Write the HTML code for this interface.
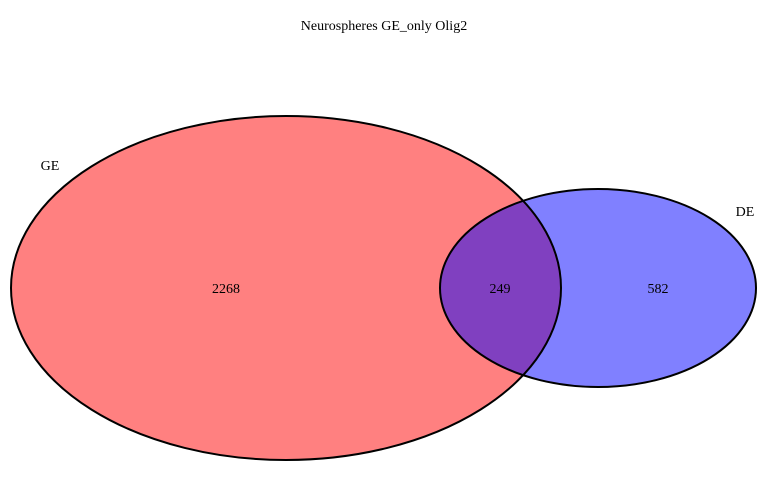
<!DOCTYPE html>
<html><head><meta charset="utf-8"><style>
html,body{margin:0;padding:0;background:#fff;}
svg{display:block;}
text{font-family:"Liberation Serif",serif;font-size:14px;fill:#000;}
</style></head><body>
<svg width="768" height="480" viewBox="0 0 768 480">
<defs>
<clipPath id="clipRed"><ellipse cx="286" cy="288" rx="275" ry="172"/></clipPath>
</defs>
<text x="384" y="30" text-anchor="middle">Neurospheres GE_only Olig2</text>
<g id="venn"></g>
</svg>
<script>
const setNames = ["GE", "DE"];
const regionCounts = [2268, 249, 582];
const svgNS = "http://www.w3.org/2000/svg";
const g = document.getElementById("venn");
function mk(tag, attrs){const e=document.createElementNS(svgNS,tag);for(const k in attrs)e.setAttribute(k,attrs[k]);g.appendChild(e);return e;}
const red = mk("ellipse",{cx:286,cy:288,rx:275,ry:172,fill:"#ff8080",stroke:"none"});


const blue = mk("ellipse",{cx:598,cy:288,rx:158,ry:99,fill:"#8080ff",stroke:"none"});


const ov = mk("ellipse",{cx:598,cy:288,rx:158,ry:99,fill:"#8040c0","clip-path":"url(#clipRed)"});


mk("ellipse",{cx:286,cy:288,rx:275,ry:172,fill:"none",stroke:"#000","stroke-width":2});
mk("ellipse",{cx:598,cy:288,rx:158,ry:99,fill:"none",stroke:"#000","stroke-width":2});
const labelPos=[[50,170],[745,216]];
setNames.forEach((n,i)=>{const t=mk("text",{x:labelPos[i][0],y:labelPos[i][1],"text-anchor":"middle"});t.textContent=n;

});
const countX=[226,500,658];
regionCounts.forEach((c,i)=>{const t=mk("text",{x:countX[i],y:293,"text-anchor":"middle"});t.textContent=c;

});
</script>
</body></html>
